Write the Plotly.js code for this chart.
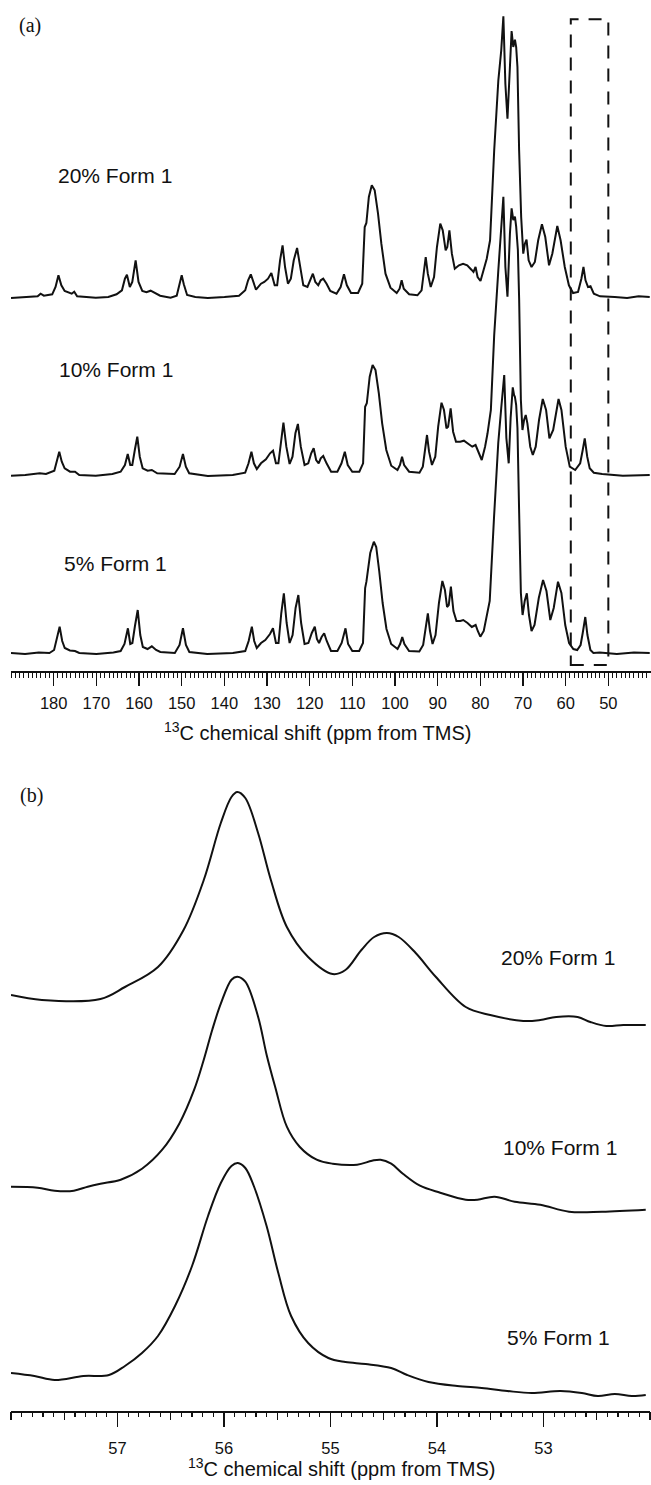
<!DOCTYPE html>
<html><head><meta charset="utf-8">
<script src="https://cdn.plot.ly/plotly-3.0.1.min.js"></script>
<style>html,body{margin:0;padding:0;background:#fff}#chart{width:651px;height:1485px}</style>
</head><body><div id="chart"></div>
<script>
// ---------- data: panel (a), full spectra (ppm, intensity above own baseline, a.u.) ----------
const ppmA20 = [190,186.66,183.75,183.06,182.3,180.34,179.56,178.88,178.2,177.42,176.45,175.77,175.18,174.5,170.13,167.2,165.26,164,163.3,162.83,162.15,161.57,160.79,160.11,159.23,158.26,157.28,156.3,155.05,152.6,151.16,150.48,149.99,149.5,148.73,146.8,143.87,139.97,136.56,135.1,134.43,133.8,133.26,132.58,131.41,130.63,129.76,128.98,128.2,127.62,126.94,126.35,125.77,125.09,124.41,123.73,122.95,122.27,121.49,120.52,119.84,119.25,118.67,117.99,117.41,116.82,116.04,115.17,113.71,112.74,111.96,111.28,110.31,108.66,107.68,107.1,106.71,106.13,105.44,104.76,103.98,103.2,102.23,101.06,99.6,98.92,98.44,97.95,96.69,94.74,93.77,93.28,92.8,92.31,91.63,90.85,90.17,89.39,88.81,88.13,87.74,87.25,86.67,85.99,85.01,84.04,83.07,82.09,81.61,81.12,80.64,79.96,79.18,78.5,77.72,76.75,75.78,75.1,74.6,74.13,73.64,73.06,72.67,72.28,71.89,71.6,71.3,70.91,70.43,69.94,69.56,69.17,68.68,68,67.22,66.44,65.56,64.78,63.9,63.13,61.96,61.19,60.21,59.24,58.27,57.1,56.32,55.83,55.35,54.76,54.18,53.4,51.94,48.5,45.6,42.9,40.3];
const intA20 = [-1,0,0.7,3.3,1.3,2.7,10,21.7,11.7,6,4,3.3,5.3,0.7,-0.7,0,2.7,6.7,18.3,22.3,10,15,36.7,15,6,4.7,6.3,4,1.3,-0.7,1.3,13.3,21.7,12.7,2,0,-1,0,1.3,6.7,16.7,22.7,15,7.3,13.3,15,18.3,24,11.7,11.7,36.7,51.7,30,13.3,18.3,36.7,49,30,11.7,10,18.3,23.3,15,11.7,16.7,18.3,13.3,6,3.3,10,22.7,11.7,4,4,13.3,70,74,100,111.7,106.7,83.3,53.3,23.3,9.3,4,8.3,16.7,8.3,2.7,1.7,6.7,23.3,40,23.3,10,20,50,73.3,66.7,46.7,50,66.7,43.3,28.3,31.7,33.3,31.7,27.3,25,30,20,16,26.7,38.3,56.7,146.7,216.7,246.7,280.7,213,178.3,230,266,250,257.3,250,230,146.7,80,43.3,53.3,57.3,36.7,30,35,56.7,72.7,60,31.7,43.3,71,56.7,30,11.7,4,5,18.3,30,16.7,10,10.7,3.3,0.7,0,-1,0.7,0];

const ppmA10 = [190,186.66,183.25,181.8,179.85,179.27,178.69,178.1,177.42,176.16,174.99,174,170.13,166.24,164.3,163.3,162.64,162.05,161.57,160.98,160.4,159.82,159.14,157.97,157,155.73,151.65,150.48,149.7,149.02,148.24,143.87,138.03,135.11,134.33,133.65,133.07,132.39,131.41,130.25,129.28,128.59,127.91,127.33,126.74,126.15,125.47,124.7,124.02,123.34,122.76,122.08,121.2,120.33,119.64,119.06,118.48,117.89,117.41,116.82,116.04,114.97,113.51,112.54,111.76,111.08,110.01,108.36,107.48,107,106.61,105.93,105.25,104.57,103.79,103.01,102.04,100.88,99.42,98.83,98.35,97.86,96.69,94.26,93.48,92.99,92.5,92.02,91.34,90.56,89.88,89.1,88.52,87.94,87.55,86.96,86.38,85.7,84.72,83.85,82.87,81.9,81.12,80.64,79.67,78.89,78.31,77.53,76.75,75.78,75.1,74.6,74.13,73.64,73.06,72.67,72.28,71.89,71.6,71.2,70.9,70.5,70.13,69.75,69.36,68.97,68.3,67.7,67.02,66.24,65.37,64.59,63.81,62.93,61.67,60.99,60,59.04,57.77,56.6,56,55.53,54.95,54.37,53.4,51.45,46.6,40.3];
const intA10 = [-0.7,0,1.7,1,4.3,15,23.3,13.3,6.7,3.3,3.3,0,-0.7,1,3.3,10,21,10,10,25,38.3,18.3,6.7,4.3,5,1.7,1,8.3,21,8.3,1.7,-1,0,2.3,11.7,23.3,11.7,6,11.7,15.7,21.7,24.3,11.7,11.7,35,52.3,28.3,11,18.3,41.7,51,28.3,10,11.7,21.7,26.7,15,11.7,16.7,19,11.7,3.3,3.3,11.7,23.3,10,3.3,3.3,11.7,68.3,71.7,98.3,110,105,81.7,51.7,25,9.3,5,10,18.3,10,3.3,2.3,8.3,25,40,23.3,10,18.3,48.3,72.3,65,46.7,48.3,66.7,43.3,33.3,33.3,34.3,31.7,28.3,30,25,15,28.3,41.7,65,140,205,245,278.3,208,178.3,241.7,266.7,255,258.3,248.3,225,175,75,45,55,60,51.7,28.3,20,28.3,55,76,65,36.7,45,76,65,28.3,8.3,5,11.7,25,36.7,18.3,6.7,2.3,1,-0.7,0];

const ppmA5 = [190,186.7,183.5,181,179.9,179.3,178.6,178,177.4,176.2,175,174,170,166,164.3,163.4,162.6,162.05,161.55,160.95,160.3,159.7,159.1,158,157,156,155,151.6,150.5,149.7,149,148.2,144,138,135.1,134.3,133.55,133,132.4,131.4,130.4,129.3,128.6,127.9,127.3,126.65,126.05,125.4,124.7,124,123.3,122.65,122,121.2,120.3,119.5,118.8,118.3,117.8,117.2,116.6,116,115,113.5,112.5,111.6,111,110,108.4,107.5,107,106.7,105.8,104.96,104.4,103.7,102.9,102,100.9,99.4,98.8,98.3,97.8,96.7,94.3,93.4,92.9,92.3,91.8,91.2,90.5,89.7,88.9,88.3,87.8,87.4,86.9,86.3,85.6,84.7,84,83,82,81.1,80.6,80,79.2,78.6,77.8,76.8,75.8,75.1,74.4,73.9,73.35,72.9,72.4,72.1,71.9,71.6,71.3,70.9,70.5,70.1,69.6,69.1,68.6,68,67.3,66.3,65.3,64.5,63.6,62.8,61.8,61,60.1,59.2,58.2,57.3,56.5,56,55.4,54.9,54.2,53.5,52,48,44,40.3];
const intA5 = [0,-1,0.5,0,3,13,26.3,12,5,2.5,2,0,-1,0.5,2,9,24.7,9,10,27,43,18,6,4,6.7,3,1,0,8,24.7,8,1,-1,0,2,12,26.3,12,5,10,13,19,24.7,10,10,40,59.7,30,10,18,45,58,30,9,10,20,26.3,14,10,16,19.7,12,2,2,10,24.7,9,2,2,10,65,71.3,100,111.3,106,82,50,24,9,4,9,16,9,2,1.5,8,25,39.7,22,9,18,50,72,63,46,48,66.3,42,32,32,33,30,26,28,22,16.3,22,35,52,135,210,245,278,215,189.7,235,265.7,258,256.3,248,225,140,60,38,52,59.7,38,22,28,55,73,62,33,45,71.3,60,28,10,4,3,8,20,36,18,3,0,0.5,-1,0.5,0];

// ---------- data: panel (b), expanded 58–52 ppm region ----------
const ppmB20 = [58,57.71,57.16,56.93,56.62,56.38,56.19,56.03,55.93,55.875,55.8,55.68,55.56,55.41,55.21,54.98,54.86,54.71,54.59,54.47,54.36,54.2,54.01,53.73,53.5,53.19,53.03,52.88,52.68,52.56,52.41,52.25,52.04];
const intB20 = [0,-5,-4,8,28,65,115,172,198,203,197,162,115,68,38,21,25,45,58,62,58,42,18,-12,-20,-26,-25,-22,-22,-27,-31,-30,-30];
const ppmB10 = [58,57.75,57.59,57.41,57.28,57.16,56.97,56.77,56.58,56.42,56.28,56.19,56.11,56.03,55.93,55.875,55.8,55.68,55.6,55.52,55.41,55.29,55.13,54.98,54.75,54.61,54.53,54.43,54.32,54.16,53.97,53.73,53.62,53.46,53.27,53.03,52.76,52.45,52.04];
const intB10 = [0,-1,-4,-4,0,3,7,18,37,63,97,127,157,183,207,210,205,170,132,100,60,40,27,23,22,26,27,23,13,1,-6,-13,-13,-10,-15,-18,-25,-25,-23];
const ppmB5 = [58,57.78,57.59,57.32,57.08,56.93,56.77,56.62,56.46,56.3,56.15,56.03,55.93,55.87,55.8,55.72,55.6,55.49,55.37,55.21,55.02,54.86,54.67,54.43,54.28,54.08,53.81,53.58,53.34,53.11,52.84,52.64,52.49,52.33,52.17,52.04];
const intB5 = [0,-3,-7,-3,-2,7,20,37,67,107,157,190,207,210,205,187,147,100,57,30,15,11,9,5,-2,-9,-13,-15,-18,-20,-18,-20,-23,-21,-23,-22];

const sampleLabels = ['20% Form 1', '10% Form 1', '5% Form 1'];
const ppmTicksA = [180,170,160,150,140,130,120,110,100,90,80,70,60,50];
const ppmTicksB = [57,56,55,54,53];
const boxPpm = [58.8, 50];          // dashed window shown in (b)
const stackOffsetA = [373.7, 195.7, 17.7];
const stackOffsetB = [415.7, 224, 37.7];

// ---------- build ----------
const W = 651, H = 1485;
const ink = '#111';
const fontSans = 'Liberation Sans, Arial, Helvetica, sans-serif';
const addOff = (arr, off) => arr.map(v => v + off);

const specA = [[ppmA20, intA20], [ppmA10, intA10], [ppmA5, intA5]];
const specB = [[ppmB20, intB20], [ppmB10, intB10], [ppmB5, intB5]];

const traces = [];
specA.forEach((s, i) => traces.push({
  x: s[0], y: addOff(s[1], stackOffsetA[i]), xaxis: 'x', yaxis: 'y',
  type: 'scatter', mode: 'lines', name: sampleLabels[i],
  line: {color: ink, width: 2, shape: 'linear'}, hoverinfo: 'skip'
}));
specB.forEach((s, i) => traces.push({
  x: s[0], y: addOff(s[1], stackOffsetB[i]), xaxis: 'x2', yaxis: 'y2',
  type: 'scatter', mode: 'lines', name: sampleLabels[i],
  line: {color: ink, width: 2, shape: 'spline', smoothing: 1}, hoverinfo: 'skip'
}));
// carrier for the medium (0.5 ppm) ticks of panel (b)
traces.push({x: [55], y: [null], xaxis: 'x3', yaxis: 'y2', mode: 'lines', showlegend: false, hoverinfo: 'skip'});

const px = v => v / W, py = v => 1 - v / H;

function ann(text, x, y, size, family) {
  return {text, x: px(x), y: py(y), xref: 'paper', yref: 'paper', showarrow: false,
    xanchor: 'center', yanchor: 'middle', font: {family: family || fontSans, size, color: ink}};
}

const titleText = '<sup>13</sup>C chemical shift (ppm from TMS)';

const layout = {
  width: W, height: H, autosize: false,
  margin: {l: 0, r: 0, t: 0, b: 0, pad: 0},
  paper_bgcolor: '#fff', plot_bgcolor: '#fff', showlegend: false,
  xaxis: {
    domain: [11 / W, 1], range: [190, 40], anchor: 'y',
    tickmode: 'array', tickvals: ppmTicksA, ticktext: ppmTicksA.map(String),
    ticks: 'outside', ticklen: 13, tickwidth: 1.6, tickcolor: ink,
    showline: true, linewidth: 2, linecolor: ink, showgrid: false, zeroline: false,
    tickfont: {family: fontSans, size: 16.5, color: ink}, ticklabelstandoff: 3,
    minor: {tickmode: 'linear', tick0: 0, dtick: 1, ticks: 'outside', ticklen: 5, tickwidth: 1, tickcolor: ink, showgrid: false}
  },
  yaxis: {domain: [py(670.7), py(5)], range: [0, 665.7], visible: false, fixedrange: true},
  xaxis2: {
    domain: [11 / W, 650 / W], range: [58, 52], anchor: 'y2',
    tickmode: 'array', tickvals: ppmTicksB, ticktext: ppmTicksB.map(String),
    ticks: 'outside', ticklen: 14, tickwidth: 1.6, tickcolor: ink,
    showline: true, linewidth: 2, linecolor: ink, showgrid: false, zeroline: false,
    tickfont: {family: fontSans, size: 16.5, color: ink}, ticklabelstandoff: 7,
    minor: {tickmode: 'linear', tick0: 0, dtick: 0.1, ticks: 'outside', ticklen: 4, tickwidth: 1.2, tickcolor: ink, showgrid: false}
  },
  xaxis3: {
    overlaying: 'x2', anchor: 'y2', range: [58, 52],
    tickmode: 'linear', tick0: 0, dtick: 0.5, ticks: 'outside', ticklen: 8, tickwidth: 1.4, tickcolor: ink,
    showticklabels: false, showline: false, showgrid: false, zeroline: false
  },
  yaxis2: {domain: [py(1410.7), py(760)], range: [0, 650.7], visible: false, fixedrange: true},
  shapes: [{
    type: 'rect', xref: 'x', yref: 'y', x0: boxPpm[0], x1: boxPpm[1], y0: 5.7, y1: 651.4,
    line: {color: ink, width: 2, dash: '13px,10px'}, fillcolor: 'rgba(0,0,0,0)'
  }],
  annotations: [
    ann('(a)', 30, 26, 20, 'Liberation Serif, Times New Roman, serif'),
    ann(sampleLabels[0], 115, 175, 21),
    ann(sampleLabels[1], 116, 370, 21),
    ann(sampleLabels[2], 115, 563, 21),
    ann(titleText, 317, 731, 20),
    ann('(b)', 31, 795, 20, 'Liberation Serif, Times New Roman, serif'),
    ann(sampleLabels[0], 558, 957, 21),
    ann(sampleLabels[1], 560, 1147, 21),
    ann(sampleLabels[2], 558, 1337, 21),
    ann(titleText, 342, 1467, 20)
  ]
};

Plotly.newPlot('chart', traces, layout, {staticPlot: true, displayModeBar: false});
</script>
</body></html>
